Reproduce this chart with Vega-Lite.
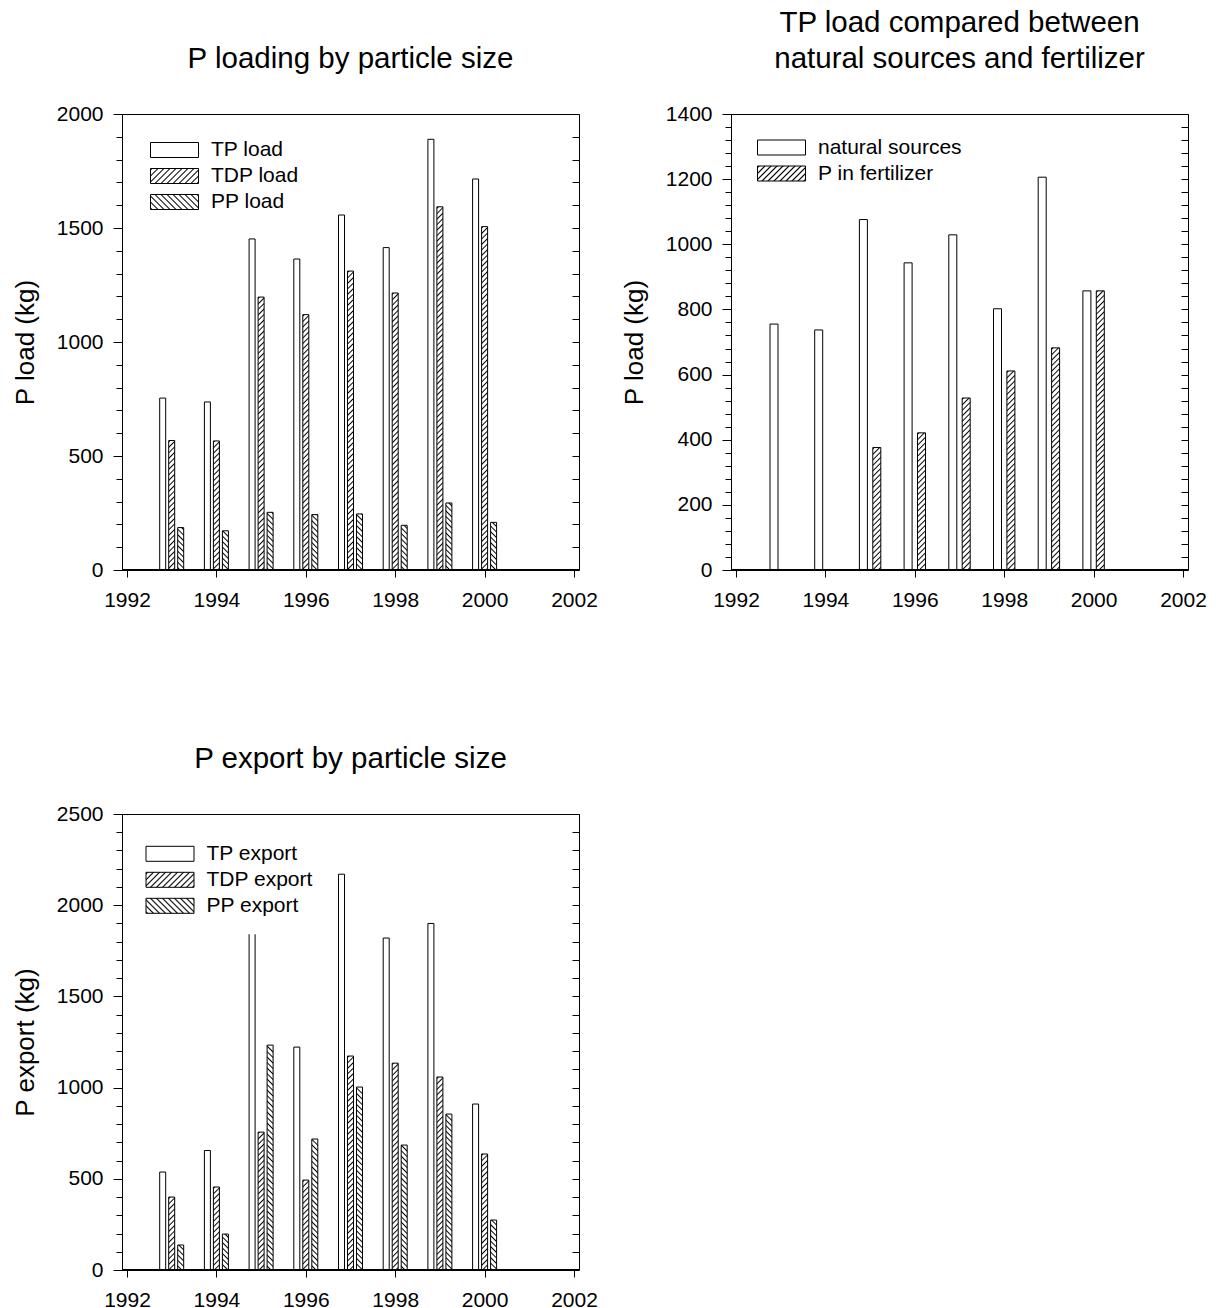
{
"$schema":"https://vega.github.io/schema/vega-lite/v6.json",
"padding":{"left":12,"top":7,"right":6,"bottom":4},
"background":"white",
"params":[{"name":"hatch","value":[
{"offset":0,"color":"#fff"},{"offset":0.0025,"color":"#000"},{"offset":0.005,"color":"#fff"},
{"offset":0.01,"color":"#fff"},{"offset":0.0125,"color":"#000"},{"offset":0.015,"color":"#fff"},
{"offset":0.02,"color":"#fff"},{"offset":0.0225,"color":"#000"},{"offset":0.025,"color":"#fff"},
{"offset":0.03,"color":"#fff"},{"offset":0.0325,"color":"#000"},{"offset":0.035,"color":"#fff"},
{"offset":0.04,"color":"#fff"},{"offset":0.0425,"color":"#000"},{"offset":0.045,"color":"#fff"},
{"offset":0.05,"color":"#fff"},{"offset":0.0525,"color":"#000"},{"offset":0.055,"color":"#fff"},
{"offset":0.06,"color":"#fff"},{"offset":0.0625,"color":"#000"},{"offset":0.065,"color":"#fff"},
{"offset":0.07,"color":"#fff"},{"offset":0.0725,"color":"#000"},{"offset":0.075,"color":"#fff"},
{"offset":0.08,"color":"#fff"},{"offset":0.0825,"color":"#000"},{"offset":0.085,"color":"#fff"},
{"offset":0.09,"color":"#fff"},{"offset":0.0925,"color":"#000"},{"offset":0.095,"color":"#fff"},
{"offset":0.1,"color":"#fff"},{"offset":0.1025,"color":"#000"},{"offset":0.105,"color":"#fff"},
{"offset":0.11,"color":"#fff"},{"offset":0.1125,"color":"#000"},{"offset":0.115,"color":"#fff"},
{"offset":0.12,"color":"#fff"},{"offset":0.1225,"color":"#000"},{"offset":0.125,"color":"#fff"},
{"offset":0.13,"color":"#fff"},{"offset":0.1325,"color":"#000"},{"offset":0.135,"color":"#fff"},
{"offset":0.14,"color":"#fff"},{"offset":0.1425,"color":"#000"},{"offset":0.145,"color":"#fff"},
{"offset":0.15,"color":"#fff"},{"offset":0.1525,"color":"#000"},{"offset":0.155,"color":"#fff"},
{"offset":0.16,"color":"#fff"},{"offset":0.1625,"color":"#000"},{"offset":0.165,"color":"#fff"},
{"offset":0.17,"color":"#fff"},{"offset":0.1725,"color":"#000"},{"offset":0.175,"color":"#fff"},
{"offset":0.18,"color":"#fff"},{"offset":0.1825,"color":"#000"},{"offset":0.185,"color":"#fff"},
{"offset":0.19,"color":"#fff"},{"offset":0.1925,"color":"#000"},{"offset":0.195,"color":"#fff"},
{"offset":0.2,"color":"#fff"},{"offset":0.2025,"color":"#000"},{"offset":0.205,"color":"#fff"},
{"offset":0.21,"color":"#fff"},{"offset":0.2125,"color":"#000"},{"offset":0.215,"color":"#fff"},
{"offset":0.22,"color":"#fff"},{"offset":0.2225,"color":"#000"},{"offset":0.225,"color":"#fff"},
{"offset":0.23,"color":"#fff"},{"offset":0.2325,"color":"#000"},{"offset":0.235,"color":"#fff"},
{"offset":0.24,"color":"#fff"},{"offset":0.2425,"color":"#000"},{"offset":0.245,"color":"#fff"},
{"offset":0.25,"color":"#fff"},{"offset":0.2525,"color":"#000"},{"offset":0.255,"color":"#fff"},
{"offset":0.26,"color":"#fff"},{"offset":0.2625,"color":"#000"},{"offset":0.265,"color":"#fff"},
{"offset":0.27,"color":"#fff"},{"offset":0.2725,"color":"#000"},{"offset":0.275,"color":"#fff"},
{"offset":0.28,"color":"#fff"},{"offset":0.2825,"color":"#000"},{"offset":0.285,"color":"#fff"},
{"offset":0.29,"color":"#fff"},{"offset":0.2925,"color":"#000"},{"offset":0.295,"color":"#fff"},
{"offset":0.3,"color":"#fff"},{"offset":0.3025,"color":"#000"},{"offset":0.305,"color":"#fff"},
{"offset":0.31,"color":"#fff"},{"offset":0.3125,"color":"#000"},{"offset":0.315,"color":"#fff"},
{"offset":0.32,"color":"#fff"},{"offset":0.3225,"color":"#000"},{"offset":0.325,"color":"#fff"},
{"offset":0.33,"color":"#fff"},{"offset":0.3325,"color":"#000"},{"offset":0.335,"color":"#fff"},
{"offset":0.34,"color":"#fff"},{"offset":0.3425,"color":"#000"},{"offset":0.345,"color":"#fff"},
{"offset":0.35,"color":"#fff"},{"offset":0.3525,"color":"#000"},{"offset":0.355,"color":"#fff"},
{"offset":0.36,"color":"#fff"},{"offset":0.3625,"color":"#000"},{"offset":0.365,"color":"#fff"},
{"offset":0.37,"color":"#fff"},{"offset":0.3725,"color":"#000"},{"offset":0.375,"color":"#fff"},
{"offset":0.38,"color":"#fff"},{"offset":0.3825,"color":"#000"},{"offset":0.385,"color":"#fff"},
{"offset":0.39,"color":"#fff"},{"offset":0.3925,"color":"#000"},{"offset":0.395,"color":"#fff"},
{"offset":0.4,"color":"#fff"},{"offset":0.4025,"color":"#000"},{"offset":0.405,"color":"#fff"},
{"offset":0.41,"color":"#fff"},{"offset":0.4125,"color":"#000"},{"offset":0.415,"color":"#fff"},
{"offset":0.42,"color":"#fff"},{"offset":0.4225,"color":"#000"},{"offset":0.425,"color":"#fff"},
{"offset":0.43,"color":"#fff"},{"offset":0.4325,"color":"#000"},{"offset":0.435,"color":"#fff"},
{"offset":0.44,"color":"#fff"},{"offset":0.4425,"color":"#000"},{"offset":0.445,"color":"#fff"},
{"offset":0.45,"color":"#fff"},{"offset":0.4525,"color":"#000"},{"offset":0.455,"color":"#fff"},
{"offset":0.46,"color":"#fff"},{"offset":0.4625,"color":"#000"},{"offset":0.465,"color":"#fff"},
{"offset":0.47,"color":"#fff"},{"offset":0.4725,"color":"#000"},{"offset":0.475,"color":"#fff"},
{"offset":0.48,"color":"#fff"},{"offset":0.4825,"color":"#000"},{"offset":0.485,"color":"#fff"},
{"offset":0.49,"color":"#fff"},{"offset":0.4925,"color":"#000"},{"offset":0.495,"color":"#fff"},
{"offset":0.5,"color":"#fff"},{"offset":0.5025,"color":"#000"},{"offset":0.505,"color":"#fff"},
{"offset":0.51,"color":"#fff"},{"offset":0.5125,"color":"#000"},{"offset":0.515,"color":"#fff"},
{"offset":0.52,"color":"#fff"},{"offset":0.5225,"color":"#000"},{"offset":0.525,"color":"#fff"},
{"offset":0.53,"color":"#fff"},{"offset":0.5325,"color":"#000"},{"offset":0.535,"color":"#fff"},
{"offset":0.54,"color":"#fff"},{"offset":0.5425,"color":"#000"},{"offset":0.545,"color":"#fff"},
{"offset":0.55,"color":"#fff"},{"offset":0.5525,"color":"#000"},{"offset":0.555,"color":"#fff"},
{"offset":0.56,"color":"#fff"},{"offset":0.5625,"color":"#000"},{"offset":0.565,"color":"#fff"},
{"offset":0.57,"color":"#fff"},{"offset":0.5725,"color":"#000"},{"offset":0.575,"color":"#fff"},
{"offset":0.58,"color":"#fff"},{"offset":0.5825,"color":"#000"},{"offset":0.585,"color":"#fff"},
{"offset":0.59,"color":"#fff"},{"offset":0.5925,"color":"#000"},{"offset":0.595,"color":"#fff"},
{"offset":0.6,"color":"#fff"},{"offset":0.6025,"color":"#000"},{"offset":0.605,"color":"#fff"},
{"offset":0.61,"color":"#fff"},{"offset":0.6125,"color":"#000"},{"offset":0.615,"color":"#fff"},
{"offset":0.62,"color":"#fff"},{"offset":0.6225,"color":"#000"},{"offset":0.625,"color":"#fff"},
{"offset":0.63,"color":"#fff"},{"offset":0.6325,"color":"#000"},{"offset":0.635,"color":"#fff"},
{"offset":0.64,"color":"#fff"},{"offset":0.6425,"color":"#000"},{"offset":0.645,"color":"#fff"},
{"offset":0.65,"color":"#fff"},{"offset":0.6525,"color":"#000"},{"offset":0.655,"color":"#fff"},
{"offset":0.66,"color":"#fff"},{"offset":0.6625,"color":"#000"},{"offset":0.665,"color":"#fff"},
{"offset":0.67,"color":"#fff"},{"offset":0.6725,"color":"#000"},{"offset":0.675,"color":"#fff"},
{"offset":0.68,"color":"#fff"},{"offset":0.6825,"color":"#000"},{"offset":0.685,"color":"#fff"},
{"offset":0.69,"color":"#fff"},{"offset":0.6925,"color":"#000"},{"offset":0.695,"color":"#fff"}
]}],
"datasets":{
"load":[
{"year":1993,"series":"TP load","value":754},{"year":1994,"series":"TP load","value":737},{"year":1995,"series":"TP load","value":1452},{"year":1996,"series":"TP load","value":1364},{"year":1997,"series":"TP load","value":1557},{"year":1998,"series":"TP load","value":1414},{"year":1999,"series":"TP load","value":1889},{"year":2000,"series":"TP load","value":1715},
{"year":1993,"series":"TDP load","value":568},{"year":1994,"series":"TDP load","value":566},{"year":1995,"series":"TDP load","value":1197},{"year":1996,"series":"TDP load","value":1120},{"year":1997,"series":"TDP load","value":1311},{"year":1998,"series":"TDP load","value":1215},{"year":1999,"series":"TDP load","value":1593},{"year":2000,"series":"TDP load","value":1506},
{"year":1993,"series":"PP load","value":186},{"year":1994,"series":"PP load","value":172},{"year":1995,"series":"PP load","value":253},{"year":1996,"series":"PP load","value":243},{"year":1997,"series":"PP load","value":246},{"year":1998,"series":"PP load","value":196},{"year":1999,"series":"PP load","value":294},{"year":2000,"series":"PP load","value":209}
],
"fert":[
{"year":1993,"series":"natural sources","value":755},{"year":1994,"series":"natural sources","value":737},{"year":1995,"series":"natural sources","value":1076},{"year":1996,"series":"natural sources","value":943},{"year":1997,"series":"natural sources","value":1029},{"year":1998,"series":"natural sources","value":802},{"year":1999,"series":"natural sources","value":1206},{"year":2000,"series":"natural sources","value":857},
{"year":1995,"series":"P in fertilizer","value":376},{"year":1996,"series":"P in fertilizer","value":421},{"year":1997,"series":"P in fertilizer","value":528},{"year":1998,"series":"P in fertilizer","value":611},{"year":1999,"series":"P in fertilizer","value":682},{"year":2000,"series":"P in fertilizer","value":857}
],
"export":[
{"year":1993,"series":"TP export","value":537},{"year":1994,"series":"TP export","value":655},{"year":1995,"series":"TP export","value":1990},{"year":1996,"series":"TP export","value":1222},{"year":1997,"series":"TP export","value":2170},{"year":1998,"series":"TP export","value":1820},{"year":1999,"series":"TP export","value":1900},{"year":2000,"series":"TP export","value":910},
{"year":1993,"series":"TDP export","value":400},{"year":1994,"series":"TDP export","value":455},{"year":1995,"series":"TDP export","value":756},{"year":1996,"series":"TDP export","value":493},{"year":1997,"series":"TDP export","value":1173},{"year":1998,"series":"TDP export","value":1134},{"year":1999,"series":"TDP export","value":1058},{"year":2000,"series":"TDP export","value":636},
{"year":1993,"series":"PP export","value":137},{"year":1994,"series":"PP export","value":197},{"year":1995,"series":"PP export","value":1233},{"year":1996,"series":"PP export","value":718},{"year":1997,"series":"PP export","value":1003},{"year":1998,"series":"PP export","value":685},{"year":1999,"series":"PP export","value":855},{"year":2000,"series":"PP export","value":274}
]
},
"config":{
"font":"Liberation Sans",
"view":{"stroke":null},
"axis":{"domainColor":"black","tickColor":"black","labelColor":"black","titleColor":"black","grid":false,"domainWidth":1,"tickWidth":1,"labelFontSize":21,"titleFontSize":26,"titleFontWeight":"normal","labelFlush":false,"labelOverlap":false,"labelBound":false},
"title":{"fontSize":29.5,"fontWeight":"normal","color":"black","anchor":"middle","baseline":"alphabetic","offset":29,"lineHeight":36},
"legend":{"labelFontSize":21,"labelColor":"black","symbolSize":576,"symbolType":"M-2,-0.625H2V0.625H-2Z","symbolStrokeWidth":1,"symbolStrokeColor":"black","symbolOpacity":1,"rowPadding":3,"labelOffset":24,"fillColor":"white","orient":"none","labelLimit":400},
"bar":{"stroke":"black","strokeWidth":1,"opacity":1},
"rule":{"stroke":"black","strokeWidth":1}
},
"columns":2,
"spacing":{"row":133,"column":23},
"resolve":{"scale":{"x":"independent","y":"independent","fill":"independent"},"legend":{"fill":"independent"}},
"concat":[
{
"title":{"text":"P loading by particle size"},
"width":457,"height":456,
"data":{"name":"load"},
"layer":[
{"transform":[{"filter":"datum.series==='TP load'"}],
 "mark":{"type":"bar","width":6,"xOffset":-9},
 "encoding":{
  "x":{"field":"year","type":"quantitative","scale":{"domain":[1992,2002],"nice":false,"zero":false},"axis":{"orient":"bottom","values":[1992,1994,1996,1998,2000,2002],"format":"d","tickSize":7,"labelPadding":12,"title":null}},
  "y":{"field":"value","type":"quantitative","scale":{"domain":[0,2000],"nice":false},"axis":{"orient":"left","values":[0,500,1000,1500,2000],"format":"d","tickSize":9,"labelPadding":10,"title":"P load (kg)","titlePadding":18}},
  "fill":{"field":"series","type":"nominal","scale":{"domain":["TP load","TDP load","PP load"],"range":["white",{"expr":"{gradient:'linear',x1:0,y1:0,x2:11.388,y2:3.5587,stops:hatch}"},{"expr":"{gradient:'linear',x1:1,y1:0,x2:-10.388,y2:3.5587,stops:hatch}"}]},
   "legend":{"title":null,"symbolType":"M-2,-0.625H2V0.625H-2Z","legendX":32,"legendY":15.5,"padding":8}}}},
{"transform":[{"filter":"datum.series==='TDP load'"}],
 "mark":{"type":"bar","width":6,"xOffset":0,"fill":{"expr":"{gradient:'linear',x1:0,y1:0,x2:3300/(pow(datum.value*0.228,2)+36),y2:550*datum.value*0.228/(pow(datum.value*0.228,2)+36),stops:hatch}"}},
 "encoding":{
  "x":{"field":"year","type":"quantitative","scale":{"domain":[1992,2002],"nice":false,"zero":false},"axis":{"orient":"top","ticks":false,"labels":false,"title":null}},
  "y":{"field":"value","type":"quantitative","scale":{"domain":[0,2000],"nice":false},"axis":{"orient":"left","values":[0,100,200,300,400,500,600,700,800,900,1000,1100,1200,1300,1400,1500,1600,1700,1800,1900,2000],"tickSize":6,"labels":false,"domain":false,"title":null}}}},
{"transform":[{"filter":"datum.series==='PP load'"}],
 "mark":{"type":"bar","width":6,"xOffset":9,"fill":{"expr":"{gradient:'linear',x1:3300/(pow(datum.value*0.228,2)+36),y1:0,x2:0,y2:550*datum.value*0.228/(pow(datum.value*0.228,2)+36),stops:hatch}"}},
 "encoding":{
  "x":{"field":"year","type":"quantitative","scale":{"domain":[1992,2002],"nice":false,"zero":false},"axis":null},
  "y":{"field":"value","type":"quantitative","scale":{"domain":[0,2000],"nice":false},"axis":null}}},
{"mark":{"type":"rule"},
 "encoding":{
  "y":{"datum":0,"type":"quantitative","scale":{"domain":[0,2000],"nice":false},"axis":{"orient":"right","values":[0,100,200,300,400,500,600,700,800,900,1000,1100,1200,1300,1400,1500,1600,1700,1800,1900,2000],"tickSize":-7,"labels":false,"title":null}}}}
],
"resolve":{"axis":{"x":"independent","y":"independent"}}
},
{
"title":{"text":["TP load compared between","natural sources and fertilizer"]},
"width":457,"height":456,
"data":{"name":"fert"},
"layer":[
{"transform":[{"filter":"datum.series==='natural sources'"}],
 "mark":{"type":"bar","width":8,"xOffset":-6.7},
 "encoding":{
  "x":{"field":"year","type":"quantitative","scale":{"domain":[1992,2002],"nice":false,"zero":false},"axis":{"orient":"bottom","values":[1992,1994,1996,1998,2000,2002],"format":"d","tickSize":7,"labelPadding":12,"title":null}},
  "y":{"field":"value","type":"quantitative","scale":{"domain":[0,1400],"nice":false},"axis":{"orient":"left","values":[0,200,400,600,800,1000,1200,1400],"format":"d","tickSize":9,"labelPadding":10,"title":"P load (kg)","titlePadding":18}},
  "fill":{"field":"series","type":"nominal","scale":{"domain":["natural sources","P in fertilizer"],"range":["white",{"expr":"{gradient:'linear',x1:0,y1:0,x2:11.388,y2:3.5587,stops:hatch}"}]},
   "legend":{"title":null,"symbolType":"M-2,-0.625H2V0.625H-2Z","legendX":30,"legendY":13,"padding":8}}}},
{"transform":[{"filter":"datum.series==='P in fertilizer'"}],
 "mark":{"type":"bar","width":8,"xOffset":6.7,"fill":{"expr":"{gradient:'linear',x1:0,y1:0,x2:4400/(pow(datum.value*0.3257,2)+64),y2:550*datum.value*0.3257/(pow(datum.value*0.3257,2)+64),stops:hatch}"}},
 "encoding":{
  "x":{"field":"year","type":"quantitative","scale":{"domain":[1992,2002],"nice":false,"zero":false},"axis":{"orient":"top","ticks":false,"labels":false,"title":null}},
  "y":{"field":"value","type":"quantitative","scale":{"domain":[0,1400],"nice":false},"axis":{"orient":"left","values":[0,40,80,120,160,200,240,280,320,360,400,440,480,520,560,600,640,680,720,760,800,840,880,920,960,1000,1040,1080,1120,1160,1200,1240,1280,1320,1360,1400],"tickSize":6,"labels":false,"domain":false,"title":null}}}},
{"mark":{"type":"rule"},
 "encoding":{
  "y":{"datum":0,"type":"quantitative","scale":{"domain":[0,1400],"nice":false},"axis":{"orient":"right","values":[0,40,80,120,160,200,240,280,320,360,400,440,480,520,560,600,640,680,720,760,800,840,880,920,960,1000,1040,1080,1120,1160,1200,1240,1280,1320,1360,1400],"tickSize":-7,"labels":false,"title":null}}}}
],
"resolve":{"axis":{"x":"independent","y":"independent"}}
},
{
"title":{"text":"P export by particle size"},
"width":457,"height":456,
"data":{"name":"export"},
"layer":[
{"transform":[{"filter":"datum.series==='TP export'"}],
 "mark":{"type":"bar","width":6,"xOffset":-9},
 "encoding":{
  "x":{"field":"year","type":"quantitative","scale":{"domain":[1992,2002],"nice":false,"zero":false},"axis":{"orient":"bottom","values":[1992,1994,1996,1998,2000,2002],"format":"d","tickSize":7,"labelPadding":12,"title":null}},
  "y":{"field":"value","type":"quantitative","scale":{"domain":[0,2500],"nice":false},"axis":{"orient":"left","values":[0,500,1000,1500,2000,2500],"format":"d","tickSize":9,"labelPadding":10,"title":"P export (kg)","titlePadding":18}},
  "fill":{"field":"series","type":"nominal","scale":{"domain":["TP export","TDP export","PP export"],"range":["white",{"expr":"{gradient:'linear',x1:0,y1:0,x2:11.388,y2:3.5587,stops:hatch}"},{"expr":"{gradient:'linear',x1:1,y1:0,x2:-10.388,y2:3.5587,stops:hatch}"}]},
   "legend":{"title":null,"symbolType":"M-2,-0.625H2V0.625H-2Z","legendX":17.5,"legendY":9.3,"padding":18}}}},
{"transform":[{"filter":"datum.series==='TDP export'"}],
 "mark":{"type":"bar","width":6,"xOffset":0,"fill":{"expr":"{gradient:'linear',x1:0,y1:0,x2:3300/(pow(datum.value*0.1824,2)+36),y2:550*datum.value*0.1824/(pow(datum.value*0.1824,2)+36),stops:hatch}"}},
 "encoding":{
  "x":{"field":"year","type":"quantitative","scale":{"domain":[1992,2002],"nice":false,"zero":false},"axis":{"orient":"top","ticks":false,"labels":false,"title":null}},
  "y":{"field":"value","type":"quantitative","scale":{"domain":[0,2500],"nice":false},"axis":{"orient":"left","values":[0,100,200,300,400,500,600,700,800,900,1000,1100,1200,1300,1400,1500,1600,1700,1800,1900,2000,2100,2200,2300,2400,2500],"tickSize":6,"labels":false,"domain":false,"title":null}}}},
{"transform":[{"filter":"datum.series==='PP export'"}],
 "mark":{"type":"bar","width":6,"xOffset":9,"fill":{"expr":"{gradient:'linear',x1:3300/(pow(datum.value*0.1824,2)+36),y1:0,x2:0,y2:550*datum.value*0.1824/(pow(datum.value*0.1824,2)+36),stops:hatch}"}},
 "encoding":{
  "x":{"field":"year","type":"quantitative","scale":{"domain":[1992,2002],"nice":false,"zero":false},"axis":null},
  "y":{"field":"value","type":"quantitative","scale":{"domain":[0,2500],"nice":false},"axis":null}}},
{"mark":{"type":"rule"},
 "encoding":{
  "y":{"datum":0,"type":"quantitative","scale":{"domain":[0,2500],"nice":false},"axis":{"orient":"right","values":[0,100,200,300,400,500,600,700,800,900,1000,1100,1200,1300,1400,1500,1600,1700,1800,1900,2000,2100,2200,2300,2400,2500],"tickSize":-7,"labels":false,"title":null}}}}
],
"resolve":{"axis":{"x":"independent","y":"independent"}}
}
]
}
